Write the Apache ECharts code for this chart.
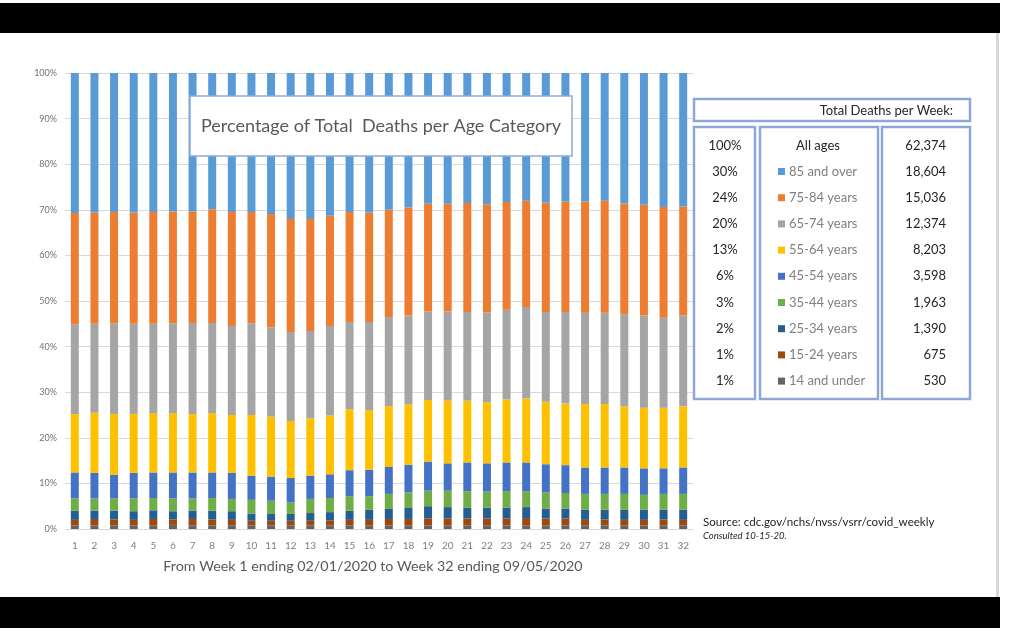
<!DOCTYPE html>
<html>
<head>
<meta charset="utf-8">
<script src="https://cdn.jsdelivr.net/npm/echarts@6/dist/echarts.min.js"></script>
<style>
html,body{margin:0;padding:0;background:#fff;}
#chart{width:1014px;height:643px;}
</style>
</head>
<body>
<div id="chart"></div>
<script>
// ---------- data ----------
const weeks = ['1','2','3','4','5','6','7','8','9','10','11','12','13','14','15','16','17','18','19','20','21','22','23','24','25','26','27','28','29','30','31','32'];
const yTickLabels = ['0%','10%','20%','30%','40%','50%','60%','70%','80%','90%','100%'];

// percentage share of weekly deaths per age category
const under14 = [0.8,0.8,0.8,0.8,0.8,0.9,0.8,0.8,0.8,0.8,0.8,0.8,0.8,0.8,0.8,0.8,0.8,0.8,0.8,0.8,0.8,0.8,0.8,0.8,0.8,0.8,0.8,0.8,0.8,0.8,0.8,0.8];
const age15_24 = [1.2,1.4,1.3,1.2,1.4,1.2,1.4,1.3,1.2,1.0,1.0,1.0,1.0,1.1,1.2,1.2,1.4,1.4,1.5,1.5,1.5,1.5,1.5,1.6,1.5,1.5,1.2,1.3,1.2,1.2,1.3,1.2];
const age25_34 = [2.0,1.8,1.9,1.9,1.9,1.8,1.8,1.9,1.9,1.6,1.5,1.5,1.7,1.8,2.0,2.2,2.2,2.4,2.7,2.5,2.4,2.4,2.4,2.4,2.2,2.2,2.2,2.1,2.2,2.2,2.1,2.2];
const age35_44 = [2.7,2.7,2.7,2.8,2.7,2.8,2.7,2.8,2.7,3.0,2.9,2.5,3.1,3.1,3.2,3.0,3.3,3.4,3.4,3.6,3.6,3.5,3.6,3.5,3.5,3.4,3.5,3.5,3.5,3.3,3.5,3.5];
const age45_54 = [5.7,5.6,5.2,5.6,5.6,5.7,5.7,5.6,5.7,5.3,5.3,5.4,5.1,5.2,5.7,5.8,5.9,6.1,6.4,6.0,6.3,6.2,6.3,6.3,6.2,6.1,5.8,5.8,5.8,5.8,5.6,5.8];
const age55_64 = [12.8,13.2,13.3,12.9,13.0,13.0,12.8,13.0,12.7,13.3,13.1,12.5,12.6,12.9,13.4,13.1,13.4,13.2,13.5,13.8,13.5,13.4,13.8,14.0,13.7,13.5,13.9,13.9,13.4,13.3,13.3,13.4];
const age65_74 = [19.7,19.5,19.9,19.8,19.6,19.7,20.0,19.8,19.5,20.1,19.6,19.5,19.1,19.6,19.1,19.3,19.5,19.5,19.4,19.5,19.5,19.7,19.7,20.1,19.7,20.1,20.0,20.0,20.2,20.2,19.7,19.9];
const age75_84 = [24.4,24.4,24.4,24.4,24.5,24.5,24.4,24.9,25.0,24.4,24.9,24.8,24.6,24.2,24.1,24.0,23.5,23.7,23.6,23.6,23.9,23.7,23.6,23.3,24.0,24.2,24.4,24.6,24.3,24.3,24.3,23.9];
const age85plus = [30.7,30.6,30.5,30.6,30.5,30.4,30.4,29.9,30.5,30.5,30.9,32.0,32.0,31.3,30.5,30.6,30.0,29.5,28.7,28.7,28.5,28.8,28.3,28.0,28.4,28.2,28.2,28.0,28.6,28.9,29.4,29.3];

const seriesNames = ['14 and under','15-24 years','25-34 years','35-44 years','45-54 years','55-64 years','65-74 years','75-84 years','85 and over'];
const seriesData = [under14, age15_24, age25_34, age35_44, age45_54, age55_64, age65_74, age75_84, age85plus];
const seriesColors = ['#636363','#9E480E','#255E91','#70AD47','#4472C4','#FFC000','#A5A5A5','#ED7D31','#5B9BD5'];

// side table
const legendOrder = ['85 and over','75-84 years','65-74 years','55-64 years','45-54 years','35-44 years','25-34 years','15-24 years','14 and under'];
const shareLabels = ['100%','30%','24%','20%','13%','6%','3%','2%','1%','1%'];
const totalLabels = ['62,374','18,604','15,036','12,374','8,203','3,598','1,963','1,390','675','530'];

const titleText = 'Percentage of Total  Deaths per Age Category';
const xAxisTitle = 'From Week 1 ending 02/01/2020 to Week 32 ending 09/05/2020';
const tableHeader = 'Total Deaths per Week:';
const sourceText = 'Source: cdc.gov/nchs/nvss/vsrr/covid_weekly';
const consultedText = 'Consulted 10-15-20.';

// ---------- chart ----------
const FONT = 'Lato, "Open Sans", sans-serif';
const chart = echarts.init(document.getElementById('chart'), null, {renderer:'canvas'});

const rowY = [146,171.5,197.5,223.5,250,276,302.5,328.5,355,381];
const borderColor = '#8EA7D6';

const graphics = [
  {type:'rect', shape:{x:0,y:3,width:1000,height:30}, style:{fill:'#000'}, z:100},
  {type:'rect', shape:{x:0,y:597,width:1000,height:31}, style:{fill:'#000'}, z:100},
  {type:'rect', shape:{x:996,y:33,width:3,height:564}, style:{fill:'#D8D8D8'}, z:100},
  // title box
  {type:'rect', shape:{x:190,y:96,width:382,height:60}, style:{fill:'#fff',stroke:'#8FAADC',lineWidth:1.5}, z:50},
  {type:'text', x:381, y:126, style:{text:titleText, fill:'#595959', font:'18px '+FONT, textAlign:'center', textVerticalAlign:'middle'}, z:51},
  // table boxes
  {type:'rect', shape:{x:694,y:99,width:276,height:22}, style:{fill:'#fff',stroke:borderColor,lineWidth:2.5}, z:50},
  {type:'rect', shape:{x:694,y:127,width:61,height:272}, style:{fill:'#fff',stroke:borderColor,lineWidth:2.5}, z:50},
  {type:'rect', shape:{x:760,y:127,width:118,height:272}, style:{fill:'#fff',stroke:borderColor,lineWidth:2.5}, z:50},
  {type:'rect', shape:{x:882,y:127,width:88,height:272}, style:{fill:'#fff',stroke:borderColor,lineWidth:2.5}, z:50},
  {type:'text', x:953, y:110.5, style:{text:tableHeader, fill:'#262626', font:'13px '+FONT, textAlign:'right', textVerticalAlign:'middle'}, z:51},
  {type:'text', x:818, y:rowY[0], style:{text:'All ages', fill:'#262626', font:'13px '+FONT, textAlign:'center', textVerticalAlign:'middle'}, z:51},
  {type:'text', x:703, y:522, style:{text:sourceText, fill:'#262626', font:'11.6px '+FONT, textAlign:'left', textVerticalAlign:'middle'}, z:51},
  {type:'text', x:703, y:536, style:{text:consultedText, fill:'#262626', font:'italic 9.5px '+FONT, textAlign:'left', textVerticalAlign:'middle'}, z:51}
];
shareLabels.forEach((t,i)=>{
  graphics.push({type:'text', x:725, y:rowY[i], style:{text:t, fill:'#262626', font:'13px '+FONT, textAlign:'center', textVerticalAlign:'middle'}, z:51});
});
totalLabels.forEach((t,i)=>{
  graphics.push({type:'text', x:946, y:rowY[i], style:{text:t, fill:'#262626', font:'13px '+FONT, textAlign:'right', textVerticalAlign:'middle'}, z:51});
});

const option = {
  backgroundColor:'#fff',
  animation:false,
  grid:{left:65, right:321, top:73, bottom:114, containLabel:false},
  legend:{
    data:legendOrder, orient:'vertical', left:778, top:164.5,
    icon:'rect', itemWidth:7, itemHeight:7, itemGap:12.2,
    textStyle:{color:'#7F7F7F', fontSize:13, fontFamily:FONT, lineHeight:14, padding:[0,0,0,-1]},
    selectedMode:false, padding:0, z:60
  },
  xAxis:{
    type:'category', data:weeks,
    axisLine:{show:true, lineStyle:{color:'#D9D9D9'}},
    axisTick:{show:false},
    axisLabel:{color:'#7F7F7F', fontSize:10, fontFamily:FONT, margin:12},
    name:xAxisTitle, nameLocation:'middle', nameGap:30,
    nameTextStyle:{color:'#595959', fontSize:14.3, fontFamily:FONT, padding:[0,12,0,0]}
  },
  yAxis:{
    type:'value', min:0, max:100, interval:10,
    axisLine:{show:false}, axisTick:{show:false},
    axisLabel:{color:'#737373', fontSize:9, fontFamily:FONT, margin:8,
      formatter:(v)=>yTickLabels[Math.round(v/10)]},
    splitLine:{lineStyle:{color:'#D9D9D9', width:1}}
  },
  series: seriesNames.map((n,i)=>({
    name:n, type:'bar', stack:'total', data:seriesData[i], barWidth:8,
    itemStyle:{color:seriesColors[i]}
  })),
  graphic: graphics
};
chart.setOption(option);
</script>
</body>
</html>
